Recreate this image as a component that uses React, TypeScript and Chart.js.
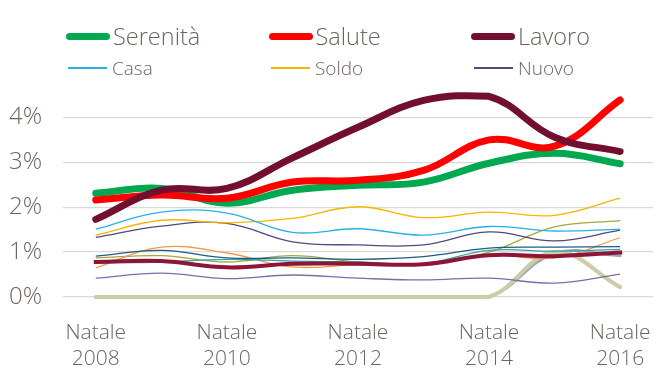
import React, { useEffect, useRef } from "react";
import { Chart, registerables } from "chart.js";

Chart.register(...registerables);

// ---- data ----
const years = ["2008", "2009", "2010", "2011", "2012", "2013", "2014", "2015", "2016"];
const yTicks = [0, 1, 2, 3, 4];

const serenita = [2.31, 2.42, 2.09, 2.38, 2.49, 2.56, 2.98, 3.2, 2.97];
const salute = [2.16, 2.27, 2.2, 2.56, 2.6, 2.82, 3.5, 3.36, 4.39];
const lavoro = [1.73, 2.38, 2.42, 3.1, 3.78, 4.38, 4.47, 3.56, 3.24];
const casa = [1.51, 1.89, 1.87, 1.44, 1.52, 1.38, 1.57, 1.47, 1.51];
const soldo = [1.38, 1.71, 1.65, 1.75, 2.01, 1.77, 1.89, 1.82, 2.2];
const nuovo = [1.33, 1.58, 1.64, 1.23, 1.16, 1.16, 1.45, 1.25, 1.49];
const altroArancio = [0.65, 1.11, 0.98, 0.67, 0.72, 0.73, 0.94, 0.87, 1.32];
const altroBlu = [0.91, 1.04, 0.87, 0.87, 0.84, 0.9, 1.09, 1.11, 1.12];
const altroOliva = [0.87, 0.92, 0.78, 0.92, 0.78, 0.73, 1.0, 1.56, 1.7];
const altroTeal = [0.76, 0.78, 0.84, 0.8, 0.78, 0.75, 1.04, 1.02, 1.06];
const altroBordeaux = [0.78, 0.8, 0.66, 0.74, 0.74, 0.73, 0.93, 0.91, 0.99];
const altroViola = [0.42, 0.53, 0.41, 0.49, 0.42, 0.38, 0.42, 0.31, 0.51];
const altroKaki = [0, 0, 0, 0, 0, 0, 0, 1.0, 0.22];
const altroGrigio = [0, 0, 0, 0, 0, 0, 0, 0.97, 0.92];

const TEXT = "#6E655E";
const FONT = "'Open Sans', 'DejaVu Sans', sans-serif";
const WEIGHT = 300;

type S = { label: string; data: number[]; color: string; width: number; cap?: CanvasLineCap };

const series: S[] = [
  { label: "Lavoro", data: lavoro, color: "#730F2E", width: 7, cap: "round" },
  { label: "Salute", data: salute, color: "#FF0000", width: 7, cap: "round" },
  { label: "Serenità", data: serenita, color: "#00A94F", width: 7, cap: "round" },
  { label: "Casa", data: casa, color: "#29B0E8", width: 1.3 },
  { label: "Soldo", data: soldo, color: "#F7B500", width: 1.3 },
  { label: "Nuovo", data: nuovo, color: "#4E4A7F", width: 1.3 },
  { label: "a1", data: altroBordeaux, color: "#8E1538", width: 4, cap: "square" },
  { label: "a2", data: altroBlu, color: "#1F5C85", width: 1.3 },
  { label: "a3", data: altroTeal, color: "#2FA3A3", width: 1.3 },
  { label: "a4", data: altroArancio, color: "#F59A4A", width: 1.3 },
  { label: "a5", data: altroOliva, color: "#A3A83C", width: 1.3 },
  { label: "a6", data: altroViola, color: "#7F6BA8", width: 1.3 },
  { label: "a7", data: altroKaki, color: "#CCCCA6", width: 4, cap: "round" },
  { label: "a8", data: altroGrigio, color: "#9FAAC0", width: 3, cap: "round" },
];

const legendRow1 = ["Serenità", "Salute", "Lavoro"];
const legendRow2 = ["Casa", "Soldo", "Nuovo"];

function LegendItem({ name, big, left, top }: { name: string; big: boolean; left: number; top: number }) {
  const s = series.find((x) => x.label === name)!;
  return (
    <div style={{ position: "absolute", left, top, display: "flex", alignItems: "center", height: 30 }}>
      <div
        style={{
          width: big ? 44 : 39,
          height: big ? 7 : 1.5,
          background: s.color,
          borderRadius: big ? 4 : 0,
          marginRight: big ? 3 : 5,
        }}
      />
      <span
        style={{
          fontFamily: FONT,
          fontWeight: WEIGHT,
          fontSize: big ? 23.5 : 19,
          color: TEXT,
          lineHeight: "30px",
          whiteSpace: "nowrap",
        }}
      >
        {name}
      </span>
    </div>
  );
}

export default function App() {
  const ref = useRef<HTMLCanvasElement | null>(null);

  useEffect(() => {
    document.body.style.margin = "0";
    const ctx = ref.current!;
    const chart = new Chart(ctx, {
      type: "line",
      data: {
        labels: years.map((y) => ["Natale", y]),
        datasets: series.map((s) => ({
          label: s.label,
          data: s.data,
          borderColor: s.color,
          backgroundColor: s.color,
          borderWidth: s.width,
          borderCapStyle: s.cap || "butt",
          borderJoinStyle: "round",
          pointRadius: 0,
          tension: 0.4,
          fill: false,
          clip: 10,
        })),
      },
      options: {
        animation: false,
        responsive: false,
        maintainAspectRatio: false,
        layout: { padding: { top: 95, right: 9, left: 0, bottom: 0 } },
        plugins: { legend: { display: false }, tooltip: { enabled: false } },
        scales: {
          x: {
            offset: true,
            grid: { display: false },
            border: { display: false },
            afterFit: (scale: any) => {
              scale.height = 72;
            },
            ticks: {
              autoSkip: false,
              maxRotation: 0,
              padding: 15,
              color: TEXT,
              font: { family: FONT, size: 21, weight: WEIGHT as any, lineHeight: 1.25 },
              callback: function (this: any, v: any, i: number) {
                return i % 2 === 0 ? this.getLabelForValue(v) : "";
              },
            },
          },
          y: {
            min: 0,
            max: 4.5,
            afterBuildTicks: (scale: any) => {
              scale.ticks = yTicks.map((v) => ({ value: v }));
            },
            afterFit: (scale: any) => {
              scale.width = 63;
            },
            grid: { color: "#D9D9D9", lineWidth: 1.3, drawTicks: false },
            border: { display: false },
            ticks: {
              padding: 21,
              color: TEXT,
              font: { family: FONT, size: 24, weight: WEIGHT as any },
              callback: (v: any) => v + "%",
            },
          },
        },
      },
    });
    return () => chart.destroy();
  }, []);

  return (
    <div style={{ position: "relative", width: 666, height: 369, background: "#fff" }}>
      <canvas ref={ref} width={666} height={369} style={{ position: "absolute", left: 0, top: 0 }} />
      {legendRow1.map((n, i) => (
        <LegendItem key={n} name={n} big left={66 + i * 202.5} top={21} />
      ))}
      {legendRow2.map((n, i) => (
        <LegendItem key={n} name={n} big={false} left={68 + i * 203} top={53} />
      ))}
    </div>
  );
}
